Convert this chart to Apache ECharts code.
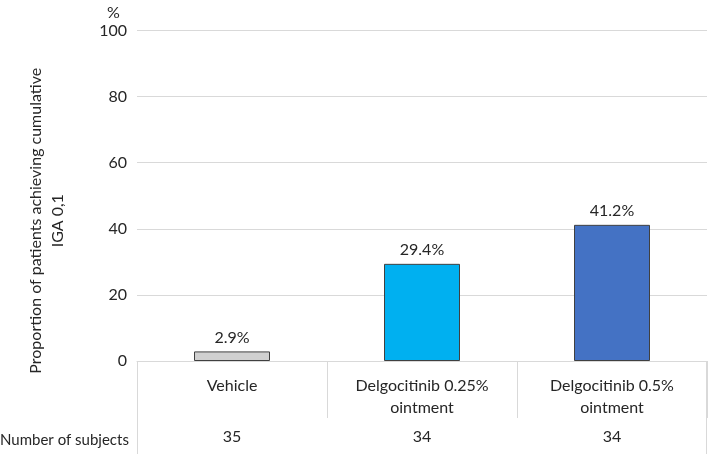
<!DOCTYPE html>
<html><head><meta charset="utf-8">
<script src="https://cdn.jsdelivr.net/npm/echarts@6/dist/echarts.min.js"></script>
<style>html,body{margin:0;padding:0;background:#fff}#c{width:709px;height:454px}</style>
</head><body><div id="c"></div>
<script>
var categories = ["Vehicle", "Delgocitinib 0.25%\nointment", "Delgocitinib 0.5%\nointment"];
var values = [2.9, 29.4, 41.2];
var subjects = ["35", "34", "34"];
var barColors = ["#d0d0d0", "#00b0f0", "#4472c4"];
var yTicks = [0, 20, 40, 60, 80, 100];

var FONT = "Lato";
var TXT = "#262626";
var chart = echarts.init(document.getElementById('c'), null, {renderer: 'canvas'});
var option = {
  animation: false,
  textStyle: {fontFamily: FONT},
  title: [
    {text: "%", left: 102, top: 0, textStyle: {fontFamily: FONT, fontSize: 16, fontWeight: 'normal', color: TXT}},
    {text: "Number of subjects", left: -5, top: 428, textStyle: {fontFamily: FONT, fontSize: 15, fontWeight: 'normal', color: TXT}}
  ],
  grid: {left: 137, right: 2, top: 30.5, bottom: 93, containLabel: false},
  xAxis: [
    {
      type: 'category', data: categories, position: 'bottom',
      axisLine: {show: true, lineStyle: {color: '#d9d9d9', width: 1}},
      axisTick: {show: true, length: 57, lineStyle: {color: '#d9d9d9'}},
      axisLabel: {fontFamily: FONT, fontSize: 16, color: TXT, margin: 14, lineHeight: 22, interval: 0}
    },
    {
      type: 'category', data: subjects, position: 'bottom', offset: 60,
      axisLine: {show: false}, axisTick: {show: false},
      axisLabel: {fontFamily: FONT, fontSize: 16, color: TXT, margin: 8, interval: 0}
    }
  ],
  yAxis: {
    type: 'value', min: 0, max: 100, interval: 20,
    name: "Proportion of patients achieving cumulative\nIGA 0,1",
    nameLocation: 'middle', nameGap: 68, nameRotate: 90,
    nameTextStyle: {fontFamily: FONT, fontSize: 16, color: TXT, lineHeight: 22, padding: [0, 50, 0, 0]},
    axisLine: {show: false}, axisTick: {show: false},
    axisLabel: {fontFamily: FONT, fontSize: 16, color: TXT, margin: 10,
      formatter: function (v) { return yTicks.indexOf(v) >= 0 ? String(v) : ''; }},
    splitLine: {show: true, lineStyle: {color: '#d9d9d9', width: 1}}
  },
  series: [{
    type: 'bar', xAxisIndex: 0, barWidth: '40%',
    data: values.map(function (v, i) {
      return {value: v, itemStyle: {color: barColors[i], borderColor: '#404040', borderWidth: 1}};
    }),
    label: {show: true, position: 'top', distance: 6, fontFamily: FONT, fontSize: 16, color: TXT,
      formatter: function (p) { return p.value.toFixed(1) + '%'; }}
  }]
};
chart.setOption(option);

// table edge lines (left and right borders extend to the bottom)
var y0 = chart.convertToPixel({yAxisIndex: 0}, 0);
var leftX = 137, rightX = 709 - 2;
chart.setOption({
  graphic: [
    {type: 'line', shape: {x1: leftX + 0.5, y1: y0, x2: leftX + 0.5, y2: 454}, style: {stroke: '#d9d9d9', lineWidth: 1}, silent: true},
    {type: 'line', shape: {x1: rightX - 0.5, y1: y0, x2: rightX - 0.5, y2: 454}, style: {stroke: '#d9d9d9', lineWidth: 1}, silent: true}
  ]
});
</script></body></html>
